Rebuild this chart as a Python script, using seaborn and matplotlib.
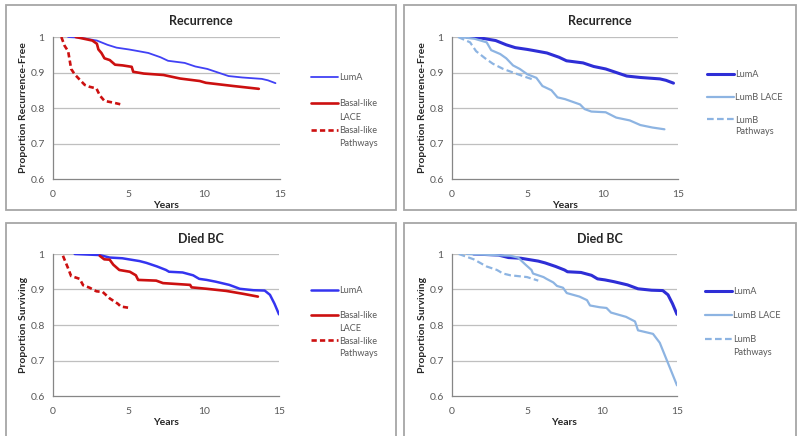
import pandas as pd
import matplotlib
matplotlib.use("Agg")
import matplotlib.pyplot as plt
from matplotlib.patches import Rectangle
from matplotlib.lines import Line2D
import seaborn as sns

# Recurrence - LumA (shared by both top panels)
rec_luma_x = [1.0, 1.8, 2.9, 3.6, 4.2, 5.0, 5.4, 6.3, 7.1, 7.6, 8.7, 9.4, 10.2, 10.9, 11.6, 12.5, 13.8, 14.2, 14.7]
rec_luma_y = [1.0, 0.998, 0.99, 0.978, 0.97, 0.965, 0.962, 0.955, 0.943, 0.933, 0.927, 0.917, 0.91, 0.9, 0.89, 0.886, 0.882, 0.878, 0.87]

rec_basal_lace_x = [1.5, 2.6, 2.9, 3.0, 3.2, 3.4, 3.75, 4.1, 4.6, 5.2, 5.3, 6.0, 7.3, 8.4, 9.7, 10.1, 11.9, 13.6]
rec_basal_lace_y = [1.0, 0.99, 0.981, 0.965, 0.955, 0.94, 0.935, 0.922, 0.92, 0.916, 0.902, 0.897, 0.893, 0.883, 0.876, 0.871, 0.862, 0.854]

rec_basal_path_x = [0.55, 0.77, 1.0, 1.2, 1.43, 1.76, 2.1, 2.4, 2.87, 3.1, 3.4, 4.0, 4.5]
rec_basal_path_y = [1.0, 0.975, 0.96, 0.91, 0.895, 0.88, 0.865, 0.86, 0.855, 0.835, 0.82, 0.815, 0.81]

rec_lumb_lace_x = [0.5, 1.5, 2.3, 2.6, 3.2, 3.6, 4.05, 4.5, 5.0, 5.6, 6.0, 6.6, 7.0, 7.5, 8.5, 8.8, 9.25, 10.2, 10.9, 11.8, 12.5, 13.3, 14.1]
rec_lumb_lace_y = [1.0, 0.995, 0.985, 0.963, 0.952, 0.94, 0.92, 0.91, 0.895, 0.885, 0.862, 0.85, 0.83, 0.825, 0.81, 0.797, 0.79, 0.788, 0.773, 0.765, 0.752, 0.745, 0.74]

rec_lumb_path_x = [0.4, 1.2, 1.6, 2.2, 2.7, 3.4, 4.05, 4.7, 5.4]
rec_lumb_path_y = [1.0, 0.985, 0.96, 0.94, 0.925, 0.91, 0.9, 0.89, 0.88]

# Died BC
died_luma_x = [1.44, 3.1, 3.76, 4.6, 5.75, 6.2, 6.9, 7.5, 7.7, 8.6, 9.3, 9.7, 10.2, 10.8, 11.7, 12.4, 13.3, 14.05, 14.4, 14.7, 15.0]
died_luma_y = [1.0, 0.997, 0.99, 0.988, 0.98, 0.975, 0.965, 0.955, 0.95, 0.948, 0.94, 0.93, 0.927, 0.922, 0.913, 0.902, 0.898, 0.897, 0.885, 0.86, 0.83]

died_basal_lace_x = [3.1, 3.4, 3.76, 4.0, 4.4, 5.1, 5.5, 5.65, 6.85, 7.3, 9.1, 9.2, 10.2, 11.5, 12.6, 13.6]
died_basal_lace_y = [0.995, 0.985, 0.984, 0.97, 0.955, 0.95, 0.94, 0.927, 0.925, 0.918, 0.913, 0.906, 0.902, 0.896, 0.888, 0.88]

died_basal_path_x = [0.66, 1.0, 1.2, 1.77, 2.0, 2.43, 2.88, 3.3, 3.76, 4.3, 4.5, 5.1]
died_basal_path_y = [0.995, 0.96, 0.938, 0.93, 0.912, 0.905, 0.895, 0.893, 0.875, 0.86, 0.852, 0.848]

died_lumb_lace_x = [1.0, 3.9, 4.4, 4.9, 5.3, 5.4, 6.1, 6.3, 6.75, 7.0, 7.4, 7.65, 8.5, 9.0, 9.2, 9.85, 10.3, 10.6, 11.6, 12.2, 12.4, 13.4, 13.85, 15.0]
died_lumb_lace_y = [1.0, 0.995, 0.99, 0.97, 0.955, 0.945, 0.935, 0.93, 0.92, 0.91, 0.905, 0.89, 0.88, 0.87, 0.855, 0.85, 0.848, 0.835, 0.823, 0.81, 0.785, 0.775, 0.75, 0.63]

died_lumb_path_x = [0.45, 1.45, 2.3, 3.0, 3.4, 3.9, 5.0, 5.75]
died_lumb_path_y = [1.0, 0.985, 0.965, 0.955, 0.945, 0.94, 0.935, 0.925]

x_ticks = [0, 5, 10, 15]
y_ticks = [0.6, 0.7, 0.8, 0.9, 1.0]
y_tick_labels = ["0.6", "0.7", "0.8", "0.9", "1"]

sns.set_style("white")
plt.rcParams['font.family'] = ['Lato', 'DejaVu Sans']

W, H = 800, 436
fig = plt.figure(figsize=(8, 4.36), dpi=100)

BLUE_THIN = "#4141f5"
BLUE_DARK = "#2e2ed6"
RED = "#cc1010"
LIGHT = "#8db4e2"
GREY = "#595959"


def px_axes(x0, y0, x1, y1):
    return fig.add_axes([x0 / W, 1 - y1 / H, (x1 - x0) / W, (y1 - y0) / H])


def box(x0, y0, x1, y1):
    fig.patches.append(Rectangle((x0 / W, 1 - y1 / H), (x1 - x0) / W, (y1 - y0) / H,
                                 transform=fig.transFigure, fill=False,
                                 edgecolor="#a6a6a6", lw=1.3))


def draw(ax, series):
    for xs, ys, color, lw, dash in series:
        df = pd.DataFrame({"Years": xs, "val": ys})
        line = sns.lineplot(data=df, x="Years", y="val", ax=ax, color=color, lw=lw,
                            sort=False, estimator=None)
        l = line.get_lines()[-1]
        if dash:
            l.set_dashes(dash)


def style(ax, ylabel):
    ax.set_xlim(0, 15)
    ax.set_ylim(0.6, 1.0)
    ax.set_xticks(x_ticks)
    ax.set_yticks(y_ticks)
    ax.set_yticklabels(y_tick_labels)
    for y in y_ticks[1:]:
        ax.axhline(y, color="#bfbfbf", lw=0.9, zorder=0)
    for s in ["top", "right"]:
        ax.spines[s].set_visible(False)
    for s in ["left", "bottom"]:
        ax.spines[s].set_color("#868686")
        ax.spines[s].set_linewidth(0.9)
    ax.tick_params(axis="both", colors="#868686", labelcolor=GREY, labelsize=7.5,
                   length=3, width=0.8, direction="out")
    ax.tick_params(axis="x", pad=5)
    ax.tick_params(axis="y", pad=3)
    ax.set_xlabel("Years", fontsize=7.5, fontweight="bold", labelpad=1)
    ax.set_ylabel(ylabel, fontsize=7.5, fontweight="bold", labelpad=2)


def legend(ax, handles, labels, x, y, spacing):
    fig.legend(handles, labels, loc="upper left", bbox_to_anchor=(x / W, 1 - y / H),
               frameon=False, fontsize=6.6, handlelength=2.9, handletextpad=0.2,
               borderpad=0, borderaxespad=0, labelspacing=spacing,
               labelcolor=GREY)


blank = Line2D([], [], color="none")

# panel boxes
box(6, 5, 396, 210)
box(404, 5, 796, 210)
box(6, 223, 396, 445)
box(404, 223, 796, 445)

# top-left
ax1 = px_axes(53, 37, 280, 179)
draw(ax1, [(rec_luma_x, rec_luma_y, BLUE_THIN, 1.3, None),
           (rec_basal_lace_x, rec_basal_lace_y, RED, 1.9, None),
           (rec_basal_path_x, rec_basal_path_y, RED, 1.9, (2, 1.2))])
style(ax1, "Proportion Recurrence-Free")
fig.text(201 / W, 1 - 21 / H, "Recurrence", ha="center", va="center", fontsize=9, fontweight="bold")
legend(ax1, [Line2D([], [], color=BLUE_THIN, lw=1.3), blank,
             Line2D([], [], color=RED, lw=1.9), blank,
             Line2D([], [], color=RED, lw=1.9, dashes=(2, 1.2)), blank],
       ["LumA", "", "Basal-like", "LACE", "Basal-like", "Pathways"], 311, 73, 0.46)

# top-right
ax2 = px_axes(452, 37, 678, 179)
draw(ax2, [(rec_luma_x, rec_luma_y, BLUE_DARK, 2.2, None),
           (rec_lumb_lace_x, rec_lumb_lace_y, LIGHT, 1.6, None),
           (rec_lumb_path_x, rec_lumb_path_y, LIGHT, 1.6, (3, 1.5))])
style(ax2, "Proportion Recurrence-Free")
fig.text(600 / W, 1 - 21 / H, "Recurrence", ha="center", va="center", fontsize=9, fontweight="bold")
legend(ax2, [Line2D([], [], color=BLUE_DARK, lw=2.2), blank,
             Line2D([], [], color=LIGHT, lw=1.6), blank,
             Line2D([], [], color=LIGHT, lw=1.6, dashes=(3, 1.5)), blank],
       ["LumA", "", "LumB LACE", "", "LumB", "Pathways"], 707, 70, 0.26)

# bottom-left
ax3 = px_axes(53, 254, 279, 396)
draw(ax3, [(died_luma_x, died_luma_y, "#3434f0", 1.8, None),
           (died_basal_lace_x, died_basal_lace_y, RED, 1.9, None),
           (died_basal_path_x, died_basal_path_y, RED, 1.9, (2, 1.2))])
style(ax3, "Proportion Surviving")
fig.text(201 / W, 1 - 239 / H, "Died BC", ha="center", va="center", fontsize=9, fontweight="bold")
legend(ax3, [Line2D([], [], color="#3434f0", lw=1.8), blank,
             Line2D([], [], color=RED, lw=1.9), blank,
             Line2D([], [], color=RED, lw=1.9, dashes=(2, 1.2)), blank],
       ["LumA", "", "Basal-like", "LACE", "Basal-like", "Pathways"], 311, 286, 0.4)

# bottom-right
ax4 = px_axes(452, 254, 677, 396)
draw(ax4, [(died_luma_x, died_luma_y, BLUE_DARK, 2.2, None),
           (died_lumb_lace_x, died_lumb_lace_y, LIGHT, 1.6, None),
           (died_lumb_path_x, died_lumb_path_y, LIGHT, 1.6, (3, 1.5))])
style(ax4, "Proportion Surviving")
fig.text(600 / W, 1 - 239 / H, "Died BC", ha="center", va="center", fontsize=9, fontweight="bold")
legend(ax4, [Line2D([], [], color=BLUE_DARK, lw=2.2), blank,
             Line2D([], [], color=LIGHT, lw=1.6), blank,
             Line2D([], [], color=LIGHT, lw=1.6, dashes=(3, 1.5)), blank],
       ["LumA", "", "LumB LACE", "", "LumB", "Pathways"], 705, 287, 0.34)

fig.savefig("out.png", dpi=100)
